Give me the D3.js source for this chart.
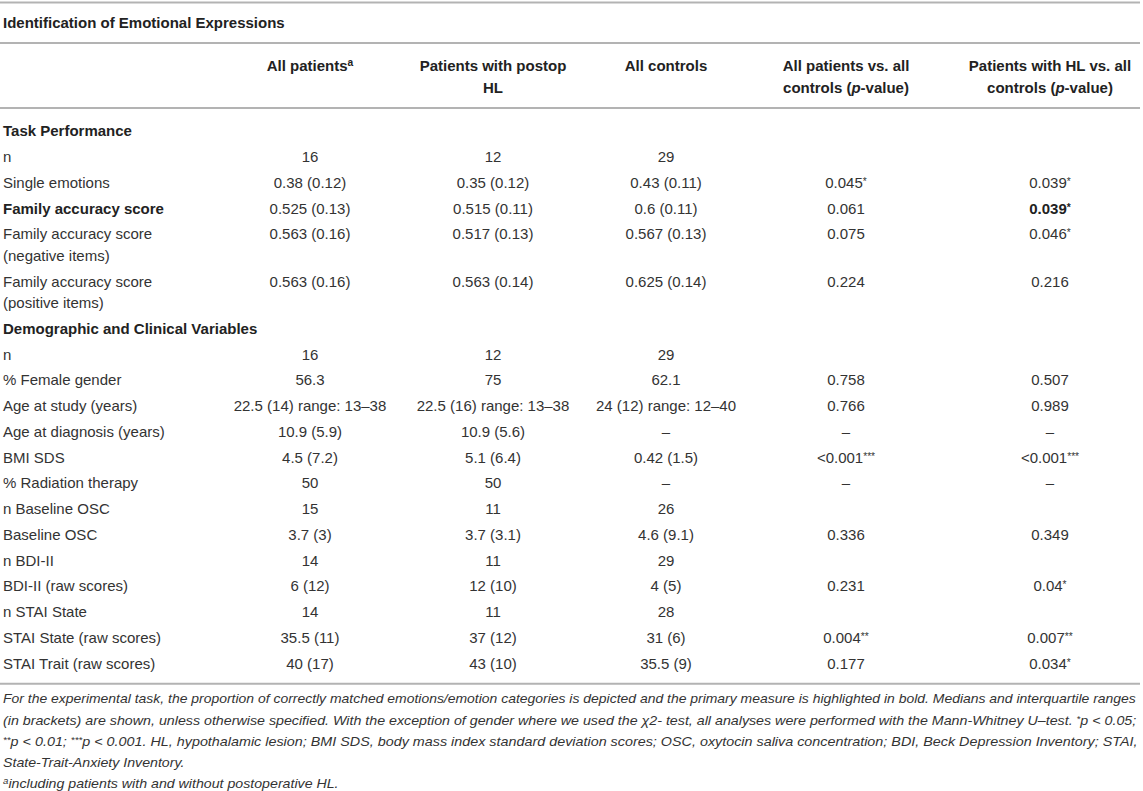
<!doctype html>
<html>
<head>
<meta charset="utf-8">
<title>Identification of Emotional Expressions</title>
<script src="https://d3js.org/d3.v7.min.js"></script>
<style>
    body { margin: 0; background: #fff; }
    svg { display: block; font-family: "Liberation Sans", Arial, Helvetica, sans-serif; }
</style>
</head>
<body>

<svg width="1143" height="791"></svg>

<script>
    /* TABLE DATA  (_{..} = italic, ^{..} = superscript, trailing * = raised stars) */

    var title = "Identification of Emotional Expressions";

    var headers = [
        ["All patients^{a}"],
        ["Patients with postop", "HL"],
        ["All controls"],
        ["All patients vs. all", "controls (_{p}-value)"],
        ["Patients with HL vs. all", "controls (_{p}-value)"]
    ];

    var sectionTitles = ["Task Performance", "Demographic and Clinical Variables"];
    var sectionSizes = [5, 13];

    var rowLabels = [
        "n", "Single emotions", "Family accuracy score",
        "Family accuracy score (negative items)", "Family accuracy score (positive items)",
        "n", "% Female gender", "Age at study (years)", "Age at diagnosis (years)", "BMI SDS",
        "% Radiation therapy", "n Baseline OSC", "Baseline OSC", "n BDI-II", "BDI-II (raw scores)",
        "n STAI State", "STAI State (raw scores)", "STAI Trait (raw scores)"
    ];

    var allPatients = [
        "16", "0.38 (0.12)", "0.525 (0.13)", "0.563 (0.16)", "0.563 (0.16)",
        "16", "56.3", "22.5 (14) range: 13–38", "10.9 (5.9)", "4.5 (7.2)",
        "50", "15", "3.7 (3)", "14", "6 (12)", "14", "35.5 (11)", "40 (17)"
    ];
    var postopHL = [
        "12", "0.35 (0.12)", "0.515 (0.11)", "0.517 (0.13)", "0.563 (0.14)",
        "12", "75", "22.5 (16) range: 13–38", "10.9 (5.6)", "5.1 (6.4)",
        "50", "11", "3.7 (3.1)", "11", "12 (10)", "11", "37 (12)", "43 (10)"
    ];
    var allControls = [
        "29", "0.43 (0.11)", "0.6 (0.11)", "0.567 (0.13)", "0.625 (0.14)",
        "29", "62.1", "24 (12) range: 12–40", "–", "0.42 (1.5)",
        "–", "26", "4.6 (9.1)", "29", "4 (5)", "28", "31 (6)", "35.5 (9)"
    ];
    var pAllPatients = [
        "", "0.045*", "0.061", "0.075", "0.224",
        "", "0.758", "0.766", "–", "<0.001***",
        "–", "", "0.336", "", "0.231", "", "0.004**", "0.177"
    ];
    var pPostopHL = [
        "", "0.039*", "0.039*", "0.046*", "0.216",
        "", "0.507", "0.989", "–", "<0.001***",
        "–", "", "0.349", "", "0.04*", "", "0.007**", "0.034*"
    ];

    // primary measure, printed in bold
    var boldLabels = ["Family accuracy score"];
    var boldCells = [{ row: 2, col: 4 }];

    var footnote = [
        "For the experimental task, the proportion of correctly matched emotions/emotion categories is depicted and the primary measure is highlighted in bold. Medians and interquartile ranges",
        "(in brackets) are shown, unless otherwise specified. With the exception of gender where we used the χ2- test, all analyses were performed with the Mann-Whitney U–test. *p < 0.05;",
        "**p < 0.01; ***p < 0.001. HL, hypothalamic lesion; BMI SDS, body mass index standard deviation scores; OSC, oxytocin saliva concentration; BDI, Beck Depression Inventory; STAI,",
        "State-Trait-Anxiety Inventory.",
        "^{a}including patients with and without postoperative HL."
    ];

    /* LAYOUT */

    var svg = d3.select("svg"),
        width = +svg.attr("width"),
        fontSize = 15,
        textColor = "#333",
        ruleColor = "#b3b3b3";

    var valueColumns = [allPatients, postopHL, allControls, pAllPatients, pPostopHL];

    var xCol = d3.scaleOrdinal()
        .domain(d3.range(headers.length))
        .range([310, 493, 666, 846, 1050]);

    var rowStep = 25.75, lineStep = 21.5, labelWidth = 200;

    // writes a string with the little markup into a text element
    function rich(sel, str) {
        var re = /(\^\{[^}]*\}|_\{[^}]*\}|\*+)/g, last = 0, m;
        while ((m = re.exec(str))) {
            if (m.index > last) sel.append("tspan").text(str.slice(last, m.index));
            var tok = m[0];
            if (tok[0] === "*") {
                sel.append("tspan").attr("font-size", "0.68em").attr("baseline-shift", 3).text(tok);
            } else if (tok[0] === "^") {
                sel.append("tspan").attr("font-size", "0.68em").attr("baseline-shift", 5).text(tok.slice(2, -1));
            } else {
                sel.append("tspan").attr("font-style", "italic").text(tok.slice(2, -1));
            }
            last = re.lastIndex;
        }
        if (last < str.length) sel.append("tspan").text(str.slice(last));
    }

    // splits a label into lines that fit labelWidth
    function wrapLines(str, bold) {
        var probe = svg.append("text").attr("font-size", fontSize).attr("font-weight", bold ? "bold" : null);
        var words = str.split(" "), lines = [], cur = "";
        words.forEach(function(w) {
            var test = cur ? cur + " " + w : w;
            probe.text(test);
            if (cur && probe.node().getComputedTextLength() > labelWidth) {
                lines.push(cur);
                cur = w;
            } else cur = test;
        });
        lines.push(cur);
        probe.remove();
        return lines;
    }

    // build the row list: section headings + data rows with their y positions
    var rows = [], y = 131, r = 0;
    sectionTitles.forEach(function(s, si) {
        rows.push({ section: true, label: s, y: y, lines: [s] });
        y += rowStep;
        for (var k = 0; k < sectionSizes[si]; k++, r++) {
            var bold = boldLabels.indexOf(rowLabels[r]) >= 0;
            var lines = wrapLines(rowLabels[r], bold);
            rows.push({ section: false, index: r, label: rowLabels[r], bold: bold, lines: lines, y: y });
            y += rowStep + (lines.length - 1) * lineStep;
        }
    });
    var lastY = rows[rows.length - 1].y;

    var rules = [2.5, 43, 108, lastY + 20.5];

    svg.selectAll(".rule")
        .data(rules)
        .enter().append("line")
        .attr("class", "rule")
        .attr("x1", 0)
        .attr("x2", 1140)
        .attr("y1", function(d) { return d; })
        .attr("y2", function(d) { return d; })
        .attr("stroke", ruleColor)
        .attr("stroke-width", 2);

    // title
    svg.append("text")
        .attr("x", 3)
        .attr("y", 23)
        .attr("dy", "0.35em")
        .attr("font-size", fontSize)
        .attr("font-weight", "bold")
        .attr("fill", "#222")
        .text(title);

    // column headers
    headers.forEach(function(h, i) {
        h.forEach(function(line, li) {
            var t = svg.append("text")
                .attr("x", xCol(i))
                .attr("y", 66 + li * lineStep)
                .attr("dy", "0.35em")
                .attr("text-anchor", "middle")
                .attr("font-size", fontSize)
                .attr("font-weight", "bold")
                .attr("fill", "#222");
            rich(t, line);
        });
    });

    // row labels
    var labelG = svg.append("g");
    rows.forEach(function(row) {
        row.lines.forEach(function(line, li) {
            labelG.append("text")
                .attr("x", 3)
                .attr("y", row.y + li * lineStep)
                .attr("dy", "0.35em")
                .attr("font-size", fontSize)
                .attr("font-weight", row.section || row.bold ? "bold" : null)
                .attr("fill", row.section || row.bold ? "#222" : textColor)
                .text(line);
        });
    });

    // cell values
    var dataRows = rows.filter(function(d) { return !d.section; });
    valueColumns.forEach(function(col, ci) {
        dataRows.forEach(function(row) {
            var v = col[row.index];
            if (!v) return;
            var bold = boldCells.some(function(b) { return b.row === row.index && b.col === ci; });
            var t = svg.append("text")
                .attr("x", xCol(ci))
                .attr("y", row.y)
                .attr("dy", "0.35em")
                .attr("text-anchor", "middle")
                .attr("font-size", fontSize)
                .attr("font-weight", bold ? "bold" : null)
                .attr("fill", bold ? "#222" : textColor);
            rich(t, v);
        });
    });

    // footnote: condensed italic, first three lines justified to the table width
    var footY = lastY + 35.5, footStep = 21.25, footWidth = 1135, scales = [];
    var footTexts = footnote.map(function(line, i) {
        var g = svg.append("g").attr("transform", "translate(3," + (footY + i * footStep) + ")");
        var t = g.append("text")
            .attr("dy", "0.35em")
            .attr("font-size", 13)
            .attr("font-style", "italic")
            .attr("fill", textColor);
        rich(t, line);
        var w = t.node().getBBox().width;
        if (i < 3) scales.push(footWidth / w);
        return { g: g, t: t, w: w };
    });
    var narrow = d3.mean(scales);
    footTexts.forEach(function(d, i) {
        var s = i < 3 ? footWidth / d.w : narrow;
        d.t.attr("transform", "scale(" + s + ",1)");
    });
</script>

</body>
</html>
